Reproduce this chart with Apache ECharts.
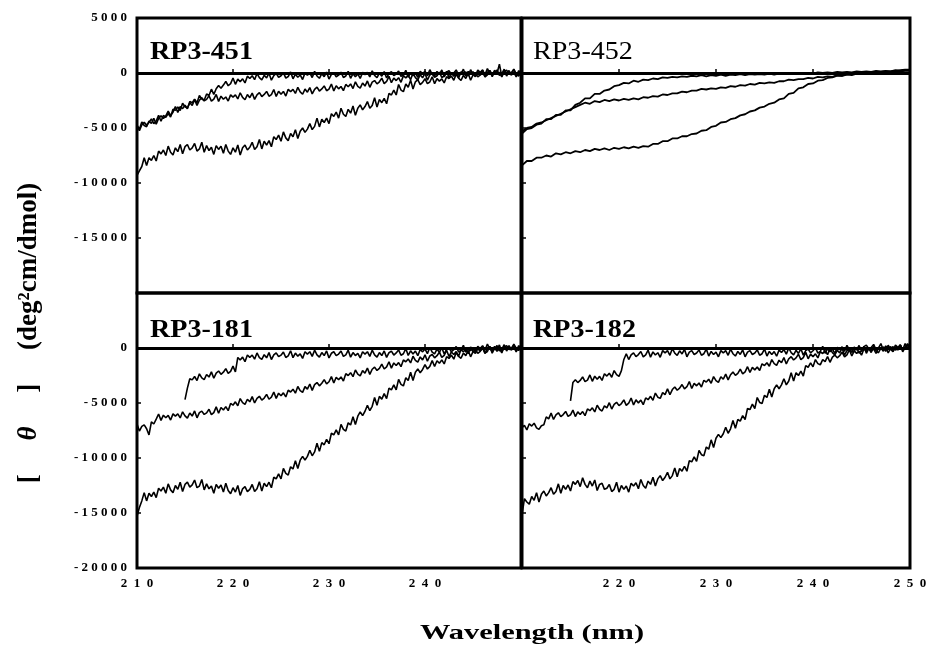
<!DOCTYPE html>
<html><head><meta charset="utf-8">
<script src="https://cdn.jsdelivr.net/npm/echarts@6/dist/echarts.min.js"></script>
<style>html,body{margin:0;padding:0;background:#fff}#chart{width:933px;height:664px}</style>
</head><body><div id="chart"></div>
<script>
// wavelength grids (nm)
const wavelengthsFine = [
210,210.25,210.5,210.75,211,211.25,211.5,211.75,212,212.25,212.5,212.75,213,213.25,213.5,213.75,214,214.25,214.5,214.75,
215,215.25,215.5,215.75,216,216.25,216.5,216.75,217,217.25,217.5,217.75,218,218.25,218.5,218.75,219,219.25,219.5,219.75,
220,220.25,220.5,220.75,221,221.25,221.5,221.75,222,222.25,222.5,222.75,223,223.25,223.5,223.75,224,224.25,224.5,224.75,
225,225.25,225.5,225.75,226,226.25,226.5,226.75,227,227.25,227.5,227.75,228,228.25,228.5,228.75,229,229.25,229.5,229.75,
230,230.25,230.5,230.75,231,231.25,231.5,231.75,232,232.25,232.5,232.75,233,233.25,233.5,233.75,234,234.25,234.5,234.75,
235,235.25,235.5,235.75,236,236.25,236.5,236.75,237,237.25,237.5,237.75,238,238.25,238.5,238.75,239,239.25,239.5,239.75,
240,240.25,240.5,240.75,241,241.25,241.5,241.75,242,242.25,242.5,242.75,243,243.25,243.5,243.75,244,244.25,244.5,244.75,
245,245.25,245.5,245.75,246,246.25,246.5,246.75,247,247.25,247.5,247.75,248,248.25,248.5,248.75,249,249.25,249.5,249.75,
250];
const wavelengthsCoarse = [
210,210.5,211,211.5,212,212.5,213,213.5,214,214.5,
215,215.5,216,216.5,217,217.5,218,218.5,219,219.5,
220,220.5,221,221.5,222,222.5,223,223.5,224,224.5,
225,225.5,226,226.5,227,227.5,228,228.5,229,229.5,
230,230.5,231,231.5,232,232.5,233,233.5,234,234.5,
235,235.5,236,236.5,237,237.5,238,238.5,239,239.5,
240,240.5,241,241.5,242,242.5,243,243.5,244,244.5,
245,245.5,246,246.5,247,247.5,248,248.5,249,249.5,
250];
const panelNames = ['RP3-451','RP3-452','RP3-181','RP3-182'];
const xTickValues = [210,220,230,240,250];
const yTickValues = [5000,0,-5000,-10000,-15000,-20000];
const xTitle = 'Wavelength (nm)';

// RP3-451 (fine grid)
const rp451_upper = [
-4790,-5110,-4450,-4770,-4880,-4360,-4590,-4120,-4650,-4130,-3890,-4140,-3900,-3470,-3860,-3570,-3050,-3580,-3060,-3240,
-2930,-3250,-2590,-2700,-2390,-2710,-2050,-2370,-2480,-1910,-2040,-1470,-1950,-1430,-1140,-1390,-1100,-770,-1160,-970,
-450,-1030,-560,-790,-530,-900,-290,-500,-240,-610,-50,-420,-630,-210,-440,-20,-650,-230,-40,-390,
-250,30,-460,-320,100,-530,-110,-390,-180,-600,10,-200,10,-410,150,-270,-480,-60,-340,80,
-550,-130,10,-340,-200,80,-410,-270,150,-480,-60,-340,-80,-500,60,-150,60,-360,200,-220,
-430,-10,-290,130,-450,-30,110,-240,-100,180,-310,-170,250,-380,40,-240,20,-400,160,-50,
160,-260,300,-120,-280,140,-140,280,-350,70,210,-140,0,280,-210,-70,350,-280,140,-140,
120,-300,260,50,260,-160,400,-20,-180,240,-40,800,-300,120,260,-90,50,330,-160,-20,
100];
const rp451_middle = [
-4720,-5250,-4730,-4490,-4740,-4500,-4170,-4610,-4370,-3850,-4380,-3860,-4040,-3680,-4000,-3290,-3400,-3090,-3410,-2750,
-3070,-3180,-2710,-2940,-2420,-2950,-2480,-2240,-2540,-2400,-2070,-2560,-2370,-1950,-2580,-2110,-2390,-2180,-2550,-1990,
-2200,-1990,-2360,-1800,-2220,-2430,-1960,-2240,-1820,-2400,-1980,-1790,-2140,-1950,-1670,-2110,-1970,-1500,-2130,-1660,
-1940,-1680,-2100,-1490,-1700,-1490,-1860,-1300,-1720,-1930,-1460,-1740,-1320,-1900,-1480,-1290,-1640,-1450,-1170,-1610,
-1470,-1000,-1630,-1160,-1440,-1230,-1600,-1040,-1250,-990,-1410,-800,-1220,-1380,-910,-1190,-720,-1300,-830,-690,
-990,-800,-470,-960,-770,-300,-880,-460,-690,-430,-850,-240,-450,-190,-610,0,-420,-630,-160,-440,
-20,-650,-180,-40,-390,-250,80,-410,-270,150,-430,-10,-290,-80,-450,110,-100,110,-260,300,
-120,-330,140,-140,280,-350,70,210,-140,0,280,-210,-70,350,-280,140,-140,70,-350,210,
0];
const rp451_lower = [
-9300,-8900,-8500,-7700,-8400,-7700,-7950,-7500,-8000,-7100,-7350,-7000,-7500,-6650,-7200,-7450,-6800,-7150,-6500,-7350,
-6700,-6500,-7000,-6800,-6400,-7100,-6900,-6300,-7200,-6600,-7050,-6750,-7400,-6600,-6950,-6650,-7300,-6500,-7100,-7400,
-6800,-7200,-6550,-7450,-6800,-6550,-7000,-6750,-6300,-6950,-6700,-6050,-6900,-6200,-6550,-6150,-6700,-5800,-6050,-5650,
-6200,-5350,-5900,-6150,-5500,-5800,-5150,-5950,-5300,-5000,-5400,-5100,-4600,-5150,-4850,-4100,-4900,-4200,-4500,-4100,
-4600,-3700,-3950,-3550,-4100,-3200,-3750,-3950,-3300,-3650,-3000,-3850,-3200,-2900,-3350,-3050,-2600,-3200,-2950,-2250,
-3100,-2400,-2700,-2300,-2800,-1850,-2000,-1550,-2000,-1050,-1550,-1700,-1000,-1300,-650,-1450,-800,-600,-1050,-850,
-520,-960,-820,-350,-980,-510,-740,-530,-900,-340,-500,-290,-660,-100,-470,-680,-210,-490,-20,-650,
-180,-40,-340,-200,130,-360,-170,250,-330,90,-140,70,-350,210,0,210,-210,350,-70,-280,
0];

// RP3-452 (coarse grid)
const rp452_upper = [
-5500,-5100,-5000,-4700,-4600,-4200,-4200,-3800,-3800,-3400,
-3400,-2900,-2700,-2300,-2300,-1900,-1900,-1600,-1500,-1200,
-1100,-900,-950,-700,-800,-600,-650,-500,-550,-400,
-450,-350,-400,-300,-350,-250,-300,-200,-300,-200,
-250,-150,-250,-150,-200,-100,-200,-100,-150,-100,
-150,-50,-150,-50,-100,0,-100,0,-50,0,
-50,50,0,50,0,100,50,100,50,150,
100,150,100,200,150,200,150,250,200,250,
250];
const rp452_middle = [
-5300,-5000,-4900,-4600,-4500,-4300,-4100,-3900,-3700,-3500,
-3300,-3100,-2900,-2700,-2800,-2550,-2650,-2450,-2550,-2400,
-2500,-2350,-2450,-2300,-2400,-2200,-2250,-2100,-2150,-1950,
-2000,-1850,-1850,-1700,-1750,-1600,-1600,-1450,-1500,-1400,
-1450,-1300,-1350,-1200,-1250,-1100,-1150,-1000,-1050,-900,
-950,-850,-900,-750,-750,-600,-650,-550,-550,-450,
-500,-350,-400,-300,-350,-200,-250,-150,-200,-50,
-100,0,-50,50,50,100,100,150,150,200,
200];
const rp452_lower = [
-8400,-8000,-8000,-7700,-7700,-7500,-7600,-7300,-7400,-7200,
-7300,-7100,-7200,-7000,-7100,-6900,-7000,-6850,-7000,-6800,
-6900,-6750,-6850,-6700,-6800,-6650,-6700,-6450,-6450,-6200,
-6200,-5950,-5950,-5750,-5750,-5550,-5500,-5250,-5200,-4900,
-4800,-4500,-4450,-4200,-4100,-3850,-3750,-3500,-3400,-3150,
-3050,-2800,-2700,-2400,-2300,-1900,-1800,-1400,-1300,-1000,
-950,-700,-650,-450,-400,-250,-250,-100,-100,0,
0,50,50,100,100,150,150,200,250,300,
300];

// RP3-181 (fine grid)
const rp181_upper = [
null,null,null,null,null,null,null,null,null,null,null,null,null,null,null,null,null,null,null,null,
-4700,-3650,-2790,-2900,-2590,-2960,-2350,-2720,-2880,-2410,-2640,-2170,-2750,-2280,-2090,-2390,-2200,-1870,-2310,-2120,
-1650,-2180,-860,-1090,-830,-1250,-640,-850,-640,-1010,-450,-870,-1030,-610,-890,-420,-1050,-630,-440,-790,
-650,-370,-860,-720,-250,-880,-460,-740,-530,-950,-340,-550,-340,-760,-200,-620,-830,-410,-690,-270,
-900,-480,-340,-690,-550,-270,-760,-620,-200,-830,-410,-690,-480,-900,-340,-550,-340,-760,-200,-620,
-830,-410,-690,-270,-850,-430,-290,-640,-450,-170,-660,-520,-50,-680,-260,-540,-280,-700,-140,-350,
-90,-510,50,-370,-530,-110,-390,30,-550,-130,10,-340,-150,130,-360,-220,250,-380,40,-240,
20,-400,160,-50,210,-210,350,-70,-280,140,-140,280,-350,70,210,-140,0,280,-210,-70,
100];
const rp181_middle = [
-6920,-7550,-7130,-6990,-7340,-7900,-6720,-6910,-6470,-6000,-6580,-6110,-6340,-6130,-6550,-5990,-6200,-5990,-6360,-5800,
-6170,-6380,-5910,-6190,-5720,-6350,-5880,-5740,-6040,-5900,-5570,-6060,-5870,-5350,-5930,-5410,-5640,-5330,-5700,-5040,
-5200,-4890,-5260,-4600,-4970,-5130,-4660,-4890,-4420,-5000,-4580,-4390,-4740,-4550,-4220,-4660,-4470,-4000,-4580,-4110,
-4340,-4080,-4450,-3840,-4000,-3740,-4110,-3500,-3870,-4030,-3510,-3740,-3270,-3850,-3330,-3140,-3440,-3200,-2870,-3260,
-3070,-2600,-3180,-2660,-2890,-2630,-3000,-2340,-2500,-2240,-2610,-2000,-2370,-2530,-2060,-2290,-1820,-2400,-1930,-1740,
-2040,-1850,-1470,-1910,-1720,-1250,-1830,-1360,-1590,-1330,-1700,-1090,-1250,-990,-1360,-750,-1120,-1280,-810,-1090,
-620,-1200,-730,-590,-890,-700,-370,-860,-670,-200,-780,-360,-590,-330,-750,-140,-350,-90,-510,100,
-320,-480,-60,-290,130,-500,-30,110,-240,-100,230,-260,-120,300,-280,140,-140,70,-350,210,
0];
const rp181_lower = [
-15300,-14500,-13900,-13150,-13900,-13200,-13500,-13100,-13600,-12750,-13000,-12650,-13200,-12350,-12900,-13150,-12500,-12850,-12200,-13050,
-12400,-12200,-12650,-12450,-12000,-12700,-12550,-11950,-12900,-12350,-12800,-12550,-13200,-12400,-12750,-12450,-13100,-12300,-12950,-13250,
-12700,-13100,-12500,-13400,-12800,-12600,-13050,-12850,-12400,-13050,-12800,-12150,-13000,-12300,-12600,-12200,-12700,-11750,-11900,-11450,
-11900,-10950,-11400,-11550,-10800,-11000,-10250,-10950,-10200,-9850,-10200,-9850,-9300,-9800,-9450,-8650,-9400,-8600,-8800,-8300,
-8700,-7750,-7900,-7450,-7900,-6950,-7400,-7550,-6800,-7000,-6250,-6950,-6200,-5800,-6150,-5750,-5200,-5700,-5300,-4500,
-5200,-4400,-4650,-4150,-4600,-3650,-3800,-3350,-3800,-2850,-3300,-3450,-2700,-2950,-2200,-2950,-2200,-1900,-2250,-1950,
-1520,-1910,-1670,-1150,-1680,-1160,-1390,-1080,-1450,-790,-950,-640,-1010,-400,-770,-930,-460,-690,-220,-800,
-330,-140,-490,-300,-20,-460,-320,150,-480,-10,-290,-30,-450,160,-50,210,-210,350,-20,-230,
150];

// RP3-182 (fine grid)
const rp182_upper = [
null,null,null,null,null,null,null,null,null,null,null,null,null,null,null,null,null,null,null,null,
-4800,-3130,-2890,-3140,-2950,-2620,-3060,-2920,-2450,-3030,-2560,-2840,-2580,-2950,-2340,-2550,-2290,-2660,-2050,-2420,
-2580,-2060,-1040,-520,-1050,-630,-440,-790,-600,-320,-810,-620,-200,-830,-360,-640,-430,-850,-240,-450,
-240,-660,-50,-470,-680,-260,-540,-120,-800,-380,-240,-590,-450,-170,-660,-520,-100,-730,-310,-590,
-380,-800,-240,-450,-240,-660,-100,-520,-730,-310,-590,-170,-800,-380,-240,-590,-450,-170,-660,-520,
-100,-730,-310,-590,-330,-750,-190,-400,-140,-560,0,-420,-630,-210,-490,-70,-650,-230,-90,-440,
-250,30,-460,-320,150,-480,-60,-340,-80,-500,60,-150,110,-310,250,-170,-330,90,-190,230,
-300,120,260,-90,50,330,-160,-20,400,-230,190,-90,120,-300,260,50,260,-160,400,-20,
100];
const rp182_middle = [
-7240,-7030,-7450,-6890,-7100,-6840,-7260,-7400,-7070,-6980,-6260,-6440,-5920,-6500,-6080,-5890,-6240,-6050,-5770,-6210,
-6070,-5650,-6230,-5810,-6040,-5780,-6150,-5540,-5700,-5440,-5810,-5200,-5570,-5730,-5260,-5440,-4970,-5550,-5130,-4940,
-5240,-5050,-4720,-5210,-5020,-4550,-5180,-4710,-4990,-4730,-5150,-4540,-4700,-4390,-4760,-4100,-4470,-4580,-4060,-4240,
-3720,-4250,-3780,-3540,-3840,-3650,-3320,-3710,-3520,-3050,-3680,-3210,-3440,-3180,-3550,-2940,-3100,-2840,-3210,-2600,
-2970,-3130,-2610,-2840,-2370,-2900,-2430,-2190,-2490,-2300,-1920,-2360,-2170,-1700,-2230,-1760,-1990,-1730,-2050,-1440,
-1600,-1340,-1660,-1050,-1420,-1580,-1110,-1340,-870,-1450,-980,-790,-1090,-900,-570,-1060,-870,-400,-980,-560,
-790,-530,-900,-340,-500,-240,-610,-50,-420,-630,-210,-440,-20,-650,-230,-90,-390,-250,30,-460,
-270,150,-480,-60,-290,-80,-500,60,-100,110,-310,250,-120,-330,90,-190,280,-350,70,210,
0];
const rp182_lower = [
-15200,-13700,-14000,-14200,-13500,-13850,-13150,-14000,-13300,-13000,-13450,-13150,-12700,-13300,-13050,-12350,-13200,-12500,-12850,-12450,
-13000,-12150,-12400,-12050,-12600,-11800,-12400,-12700,-12100,-12550,-12000,-12950,-12400,-12300,-12850,-12750,-12400,-13050,-12850,-12200,
-13100,-12500,-12850,-12550,-13100,-12300,-12550,-12250,-12800,-11950,-12500,-12750,-12100,-12400,-11750,-12550,-11900,-11600,-12050,-11750,
-11300,-11900,-11600,-10900,-11700,-10950,-11200,-10750,-11200,-10250,-10350,-9900,-10300,-9300,-9700,-9800,-9000,-9200,-8350,-9050,
-8200,-7850,-8150,-7800,-7200,-7750,-7350,-6600,-7300,-6500,-6650,-6150,-6500,-5500,-5600,-5100,-5500,-4500,-4950,-5050,
-4300,-4500,-3750,-4450,-3700,-3350,-3700,-3350,-2800,-3350,-3000,-2250,-3000,-2250,-2500,-2100,-2550,-1600,-1750,-1350,
-1710,-1050,-1420,-1530,-1060,-1240,-770,-1300,-830,-640,-890,-700,-370,-810,-620,-150,-730,-260,-490,-280,
-650,-90,-250,-40,-410,150,-270,-430,-10,-290,130,-450,-30,110,-190,-50,280,-210,-20,400,
50];

const panels = [
  {wl: wavelengthsFine,   curves: [rp451_upper, rp451_middle, rp451_lower]},
  {wl: wavelengthsCoarse, curves: [rp452_upper, rp452_middle, rp452_lower]},
  {wl: wavelengthsFine,   curves: [rp181_upper, rp181_middle, rp181_lower]},
  {wl: wavelengthsFine,   curves: [rp182_upper, rp182_middle, rp182_lower]}
];

const SERIF = '"Liberation Serif", "Times New Roman", serif';

const gridBoxes = [
  {left:137, top:18, width:384, height:275},
  {left:522, top:18, width:388, height:275},
  {left:137, top:293, width:384, height:275},
  {left:522, top:293, width:388, height:275}
];
const grid = gridBoxes.map(b => Object.assign({show:true, borderColor:'#000', borderWidth:3, backgroundColor:'transparent'}, b));

const xAxis = gridBoxes.map((b, i) => ({
  type:'value', gridIndex:i, min:xTickValues[0], max:xTickValues[xTickValues.length-1], interval:10,
  axisLine:{show:false}, splitLine:{show:false},
  axisTick:{show:true, inside:true, length:4, lineStyle:{color:'#000', width:1.5}},
  axisLabel:{
    show: i >= 2, margin:9, color:'#000', fontFamily:SERIF, fontWeight:'bold', fontSize:13,
    formatter: v => {
      if (i === 2 && v === 250) return '';
      if (i === 3 && v === 210) return '';
      return xTickValues.includes(v) ? String(v).split('').join('\u2002') : '';
    }
  }
}));

const yAxis = gridBoxes.map((b, i) => ({
  type:'value', gridIndex:i, min:-20000, max:5000, interval:5000,
  axisLine:{show:false}, splitLine:{show:false},
  axisTick:{show:true, inside:true, length:4, lineStyle:{color:'#000', width:1.5}},
  axisLabel:{
    show: i % 2 === 0, margin:10, color:'#000', fontFamily:SERIF, fontWeight:'bold', fontSize:13,
    formatter: v => {
      if (i === 0 && v === -20000) return '';
      if (i === 2 && v === 5000) return '';
      return yTickValues.includes(v) ? String(v).split('').join(' ') : '';
    }
  }
}));

const series = [];
panels.forEach((pnl, p) => {
  pnl.curves.forEach((vals, k) => {
    const s = {
      type:'line', xAxisIndex:p, yAxisIndex:p, showSymbol:false, symbol:'none',
      connectNulls:false, animation:false, silent:true,
      lineStyle:{color:'#000', width: p === 1 ? 1.8 : 1.6},
      data: pnl.wl.map((w, j) => [w, vals[j]])
    };
    if (k === 0) {
      s.markLine = {symbol:'none', silent:true, animation:false, label:{show:false},
        lineStyle:{color:'#000', width:3, type:'solid'}, data:[{yAxis:0}]};
    }
    series.push(s);
  });
});

const labelPos = [[150,52,'bold'],[533,52,'normal'],[150,330,'bold'],[533,330,'bold']];
const graphic = panelNames.map((n, i) => ({
  type:'text', x:labelPos[i][0], y:labelPos[i][1], scaleX:1.08,
  style:{text:n, fill:'#000', font: labelPos[i][2] + ' 26px ' + SERIF, align:'left', verticalAlign:'middle'}
}));
graphic.push({
  type:'text', x:29, y:333, rotation:Math.PI/2,
  style:{
    text:'{a|[\u2003\u2005}{t|\u03B8}{a|\u2003\u2005]\u2003\u2005(deg\u00B2cm/dmol)}',
    align:'center', verticalAlign:'middle', fill:'#000',
    rich:{
      a:{font:'bold 27px ' + SERIF, fill:'#000'},
      t:{font:'italic bold 27px ' + SERIF, fill:'#000'}
    }
  }
});
graphic.push({
  type:'text', x:532, y:634, scaleX:1.45,
  style:{text:xTitle, fill:'#000', font:'bold 21px ' + SERIF, align:'center', verticalAlign:'middle'}
});

const chart = echarts.init(document.getElementById('chart'), null, {renderer:'canvas'});
chart.setOption({backgroundColor:'#fff', animation:false, grid, xAxis, yAxis, series, graphic});
</script>
</body></html>
